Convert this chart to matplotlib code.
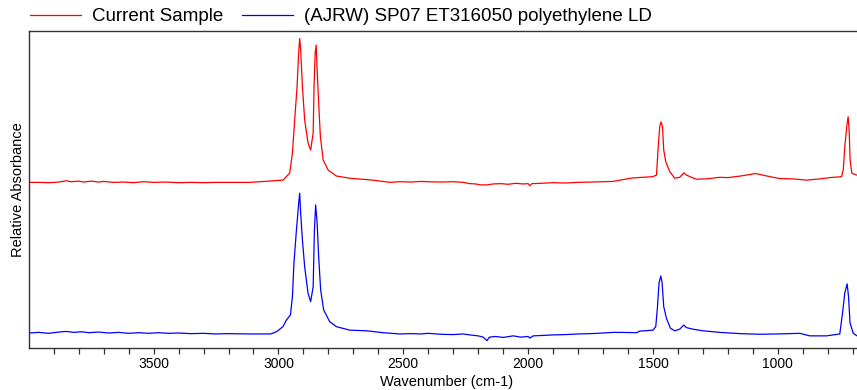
import numpy as np
import matplotlib
matplotlib.use("Agg")
import matplotlib.pyplot as plt
from matplotlib.ticker import MultipleLocator, NullLocator

plt.rcParams['font.family'] = ['Liberation Sans', 'DejaVu Sans']

# Spectra: wavenumber (cm-1) and absorbance above own baseline
sample_wn = [4000, 3960, 3920, 3880, 3850, 3830, 3800, 3780, 3750, 3720, 3700, 3660, 3620,
             3580, 3540, 3500, 3450, 3400, 3350, 3300, 3250, 3200, 3150, 3115,
             2982, 2955, 2944, 2935, 2925.5, 2919, 2915, 2911, 2904, 2895, 2881.5, 2871,
             2861, 2857.5, 2853, 2849, 2845, 2839, 2832, 2821, 2801, 2768, 2714, 2622,
             2554, 2514, 2470, 2430, 2400, 2350, 2300, 2260, 2234, 2210, 2190, 2165, 2140,
             2110, 2080, 2050, 2020, 2000, 1993, 1985, 1950, 1900, 1850, 1800, 1750, 1700,
             1660, 1633, 1581, 1501, 1486, 1480, 1473, 1468, 1462, 1457, 1449, 1433, 1413,
             1393, 1376, 1366, 1346, 1326, 1286, 1233, 1200, 1150, 1110, 1090, 1072, 1032,
             992, 940, 885, 832, 792, 745, 738, 732, 722.5, 718.5, 714.5, 710.7, 703.6,
             684.8, 650]
sample_abs = [0.002, 0.002, 0.001, 0.003, 0.007, 0.004, 0.006, 0.003, 0.006, 0.003, 0.005,
              0.002, 0.003, 0.001, 0.004, 0.002, 0.003, 0.001, 0.002, 0.001, 0.002, 0.002,
              0.002, 0.002,
              0.009, 0.031, 0.095, 0.199, 0.304, 0.410, 0.456, 0.420, 0.304, 0.199, 0.126,
              0.104, 0.158, 0.304, 0.410, 0.435, 0.356, 0.252, 0.146, 0.073, 0.041, 0.022,
              0.015, 0.009, 0.002, 0.004, 0.003, 0.005, 0.004, 0.003, 0.004, 0.002, -0.002,
              -0.003, -0.006, -0.006, -0.003, -0.002, -0.004, -0.001, -0.003, -0.002, -0.009,
              -0.002, -0.001, 0.001, 0.000, 0.002, 0.003, 0.004, 0.005, 0.009, 0.016, 0.020,
              0.025, 0.104, 0.178, 0.193, 0.178, 0.104, 0.067, 0.036, 0.015, 0.018, 0.032,
              0.025, 0.018, 0.012, 0.013, 0.018, 0.017, 0.022, 0.027, 0.030, 0.027, 0.020,
              0.014, 0.013, 0.009, 0.013, 0.017, 0.020, 0.041, 0.115, 0.188, 0.209, 0.167,
              0.073, 0.031, 0.025, 0.024]

ref_wn = [4000, 3960, 3920, 3880, 3850, 3820, 3790, 3760, 3720, 3680, 3640, 3600, 3560,
          3520, 3480, 3440, 3400, 3350, 3300, 3250, 3200, 3115, 3031, 3008, 2982, 2968,
          2952, 2944, 2938, 2928, 2919, 2915, 2911, 2904, 2895, 2881.5, 2871, 2861, 2856,
          2851, 2845, 2839, 2831, 2819, 2795, 2768, 2714, 2648, 2581, 2514, 2470, 2430,
          2400, 2350, 2300, 2260, 2234, 2200, 2180, 2165, 2155, 2130, 2100, 2060, 2030,
          2000, 1993, 1980, 1950, 1900, 1850, 1800, 1750, 1700, 1660, 1633, 1566, 1553,
          1500, 1489, 1482, 1476, 1469, 1464, 1457, 1446, 1430, 1413, 1393, 1377, 1366,
          1340, 1300, 1233, 1150, 1072, 1000, 912, 872, 805, 752, 741, 732, 722.5, 717,
          711, 698, 683, 650]
ref_abs = [0.000, 0.002, -0.001, 0.003, 0.005, 0.002, 0.004, 0.001, 0.003, 0.000, 0.002,
           -0.001, 0.001, -0.001, 0.001, -0.001, 0.000, -0.002, -0.001, -0.003, -0.002,
           -0.003, -0.003, 0.004, 0.020, 0.041, 0.057, 0.115, 0.220, 0.325, 0.409, 0.441,
           0.378, 0.293, 0.209, 0.125, 0.099, 0.146, 0.325, 0.404, 0.346, 0.241, 0.136,
           0.073, 0.036, 0.020, 0.009, 0.007, 0.001, -0.003, -0.002, -0.003, -0.001, -0.004,
           -0.005, -0.003, -0.006, -0.009, -0.013, -0.024, -0.013, -0.011, -0.014, -0.009,
           -0.013, -0.011, -0.016, -0.009, -0.008, -0.006, -0.005, -0.003, -0.002, 0.000,
           0.002, 0.002, 0.001, 0.006, 0.009, 0.020, 0.083, 0.157, 0.180, 0.162, 0.083,
           0.046, 0.015, 0.007, 0.012, 0.025, 0.017, 0.012, 0.007, 0.002, -0.002, -0.004,
           -0.003, -0.001, -0.009, -0.009, -0.003, 0.063, 0.126, 0.155, 0.115, 0.032,
           -0.001, -0.009, -0.009]

labels = ["Current Sample", "(AJRW) SP07 ET316050 polyethylene LD"]
sample_offset = 0.5205
ref_offset = 0.0473

fig = plt.figure(figsize=(8.57, 3.9), dpi=100)
ax = fig.add_axes([29 / 857, 42 / 390, 835 / 857, 317 / 390])

ax.plot(sample_wn, np.array(sample_abs) + sample_offset, color='#ff0000', lw=0.9,
        label=labels[0])
ax.plot(ref_wn, np.array(ref_abs) + ref_offset, color='#0000ff', lw=0.9, label=labels[1])

# axis starts just below 4000 so no 4000 tick shows
ax.set_xlim(3999, 655)
ax.set_ylim(0, 1)
ax.xaxis.set_major_locator(MultipleLocator(500))
ax.xaxis.set_minor_locator(MultipleLocator(100))
ax.yaxis.set_major_locator(NullLocator())
ax.tick_params(axis='x', which='both', direction='out', length=4.5, width=0.9,
               color='#333333', labelsize=10, pad=2)
for s in ax.spines.values():
    s.set_color('#333333')
    s.set_linewidth(1.0)

ax.set_xlabel('Wavenumber (cm-1)', fontsize=10.5, labelpad=3)
ax.set_ylabel('Relative Absorbance', fontsize=10.5, labelpad=3)

fig.legend(loc='upper left', bbox_to_anchor=(30 / 857, 1 - 8 / 390), ncol=2, frameon=False,
           fontsize=13.5, handlelength=2.7, handletextpad=0.6, columnspacing=1.0,
           borderaxespad=0, borderpad=0)

fig.savefig('out.png', dpi=100)
